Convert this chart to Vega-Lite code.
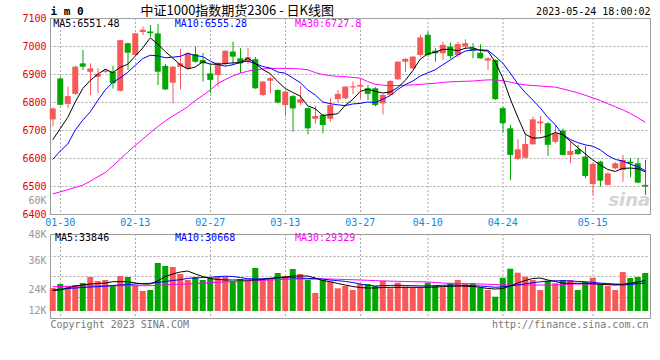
{
"$schema": "https://vega.github.io/schema/vega-lite/v6.json",
"autosize": {"type": "none"},
"padding": {"left": 50, "top": 18, "right": 610, "bottom": 342},
"background": "white",
"bounds": "flush",
"spacing": 20,
"config": {
 "view": {"stroke": "#999999", "strokeWidth": 1},
 "axis": {"labelFont": "DejaVu Sans Mono", "labelFontSize": 10, "titleFont": "DejaVu Sans Mono", "titleFontSize": 10, "titleFontWeight": "normal", "gridColor": "#aaaaaa", "gridDash": [2, 2], "gridWidth": 1, "ticks": false, "domain": false},
 "text": {"font": "DejaVu Sans Mono", "fontSize": 10}
},
"datasets": {
"k": [
{"d":"01-20","o":6738,"h":6780,"l":6714,"c":6777,"v":24414,"m5":6665,"m10":6595,"m30":6472,"vm5":23379,"vm10":23586,"vm30":24952},
{"d":"01-30","o":6884,"h":6890,"l":6788,"c":6790,"v":26069,"m5":6705,"m10":6625,"m30":6479,"vm5":23586,"vm10":23876,"vm30":25034},
{"d":"01-31","o":6793,"h":6855,"l":6778,"c":6821,"v":25241,"m5":6745,"m10":6650,"m30":6487,"vm5":24414,"vm10":24207,"vm30":25117},
{"d":"02-01","o":6829,"h":6930,"l":6826,"c":6926,"v":25655,"m5":6800,"m10":6700,"m30":6495,"vm5":25241,"vm10":24414,"vm30":25159},
{"d":"02-02","o":6938,"h":6986,"l":6914,"c":6926,"v":26483,"m5":6848,"m10":6735,"m30":6503,"vm5":25655,"vm10":24621,"vm30":25241},
{"d":"02-03","o":6908,"h":6938,"l":6825,"c":6920,"v":28965,"m5":6877,"m10":6765,"m30":6517,"vm5":26069,"vm10":24828,"vm30":25283},
{"d":"02-06","o":6890,"h":6920,"l":6832,"c":6900,"v":27310,"m5":6899,"m10":6805,"m30":6533,"vm5":26276,"vm10":24952,"vm30":25324},
{"d":"02-07","o":6908,"h":6916,"l":6904,"c":6912,"v":27724,"m5":6917,"m10":6843,"m30":6548,"vm5":26483,"vm10":25117,"vm30":25324},
{"d":"02-08","o":6908,"h":6929,"l":6848,"c":6867,"v":25241,"m5":6905,"m10":6870,"m30":6571,"vm5":27021,"vm10":25448,"vm30":25365},
{"d":"02-09","o":6840,"h":7022,"l":6838,"c":7021,"v":29379,"m5":6924,"m10":6886,"m30":6596,"vm5":27021,"vm10":25655,"vm30":25365},
{"d":"02-10","o":7010,"h":7012,"l":6914,"c":6976,"v":28965,"m5":6935,"m10":6906,"m30":6621,"vm5":27021,"vm10":25862,"vm30":25365},
{"d":"02-13","o":6968,"h":7047,"l":6966,"c":7045,"v":25531,"m5":6964,"m10":6931,"m30":6645,"vm5":26483,"vm10":26069,"vm30":25365},
{"d":"02-14","o":7050,"h":7069,"l":7039,"c":7058,"v":23172,"m5":6993,"m10":6955,"m30":6668,"vm5":26069,"vm10":26276,"vm30":25365},
{"d":"02-15","o":7052,"h":7075,"l":7033,"c":7046,"v":23586,"m5":7029,"m10":6967,"m30":6690,"vm5":26069,"vm10":26359,"vm30":25365},
{"d":"02-16","o":7045,"h":7079,"l":6861,"c":6908,"v":34759,"m5":7007,"m10":6965,"m30":6712,"vm5":27310,"vm10":26690,"vm30":25531},
{"d":"02-17","o":6929,"h":6935,"l":6843,"c":6845,"v":33517,"m5":6980,"m10":6958,"m30":6732,"vm5":29172,"vm10":27103,"vm30":25738},
{"d":"02-20","o":6869,"h":6928,"l":6795,"c":6926,"v":33103,"m5":6957,"m10":6960,"m30":6750,"vm5":30207,"vm10":27517,"vm30":25862},
{"d":"02-21","o":6926,"h":6990,"l":6845,"c":6938,"v":30207,"m5":6933,"m10":6963,"m30":6766,"vm5":31034,"vm10":27848,"vm30":25986},
{"d":"02-22","o":6920,"h":6978,"l":6917,"c":6974,"v":27724,"m5":6918,"m10":6974,"m30":6783,"vm5":31448,"vm10":28427,"vm30":26069},
{"d":"02-23","o":6971,"h":6998,"l":6940,"c":6944,"v":28965,"m5":6925,"m10":6966,"m30":6805,"vm5":30207,"vm10":28552,"vm30":26276},
{"d":"02-24","o":6950,"h":6975,"l":6873,"c":6938,"v":27724,"m5":6944,"m10":6962,"m30":6823,"vm5":29172,"vm10":28759,"vm30":26483},
{"d":"02-27","o":6902,"h":6932,"l":6831,"c":6879,"v":28552,"m5":6935,"m10":6946,"m30":6843,"vm5":28345,"vm10":28841,"vm30":26607},
{"d":"02-28","o":6896,"h":6942,"l":6855,"c":6940,"v":29090,"m5":6935,"m10":6934,"m30":6866,"vm5":27931,"vm10":29090,"vm30":26772},
{"d":"03-01","o":6936,"h":6985,"l":6930,"c":6983,"v":28965,"m5":6937,"m10":6928,"m30":6880,"vm5":27724,"vm10":29296,"vm30":26897},
{"d":"03-02","o":6980,"h":7015,"l":6932,"c":6962,"v":27310,"m5":6940,"m10":6933,"m30":6893,"vm5":27724,"vm10":29172,"vm30":27021},
{"d":"03-03","o":6956,"h":6992,"l":6903,"c":6938,"v":28138,"m5":6940,"m10":6942,"m30":6903,"vm5":27724,"vm10":28759,"vm30":27103},
{"d":"03-06","o":6943,"h":6993,"l":6936,"c":6960,"v":27724,"m5":6957,"m10":6946,"m30":6910,"vm5":27724,"vm10":28262,"vm30":27310},
{"d":"03-07","o":6953,"h":6961,"l":6847,"c":6849,"v":32690,"m5":6938,"m10":6937,"m30":6915,"vm5":27724,"vm10":28138,"vm30":27517},
{"d":"03-08","o":6825,"h":6875,"l":6822,"c":6873,"v":27724,"m5":6916,"m10":6927,"m30":6918,"vm5":27931,"vm10":28262,"vm30":27641},
{"d":"03-09","o":6876,"h":6890,"l":6831,"c":6885,"v":28138,"m5":6901,"m10":6921,"m30":6920,"vm5":28345,"vm10":28427,"vm30":27724},
{"d":"03-10","o":6843,"h":6845,"l":6795,"c":6798,"v":30621,"m5":6873,"m10":6907,"m30":6920,"vm5":28759,"vm10":28552,"vm30":27848},
{"d":"03-13","o":6789,"h":6840,"l":6748,"c":6837,"v":29379,"m5":6848,"m10":6903,"m30":6920,"vm5":28965,"vm10":28676,"vm30":27972},
{"d":"03-14","o":6821,"h":6825,"l":6694,"c":6777,"v":32276,"m5":6834,"m10":6886,"m30":6919,"vm5":29379,"vm10":28634,"vm30":28096},
{"d":"03-15","o":6798,"h":6857,"l":6789,"c":6810,"v":30207,"m5":6821,"m10":6869,"m30":6918,"vm5":29379,"vm10":28510,"vm30":28138},
{"d":"03-16","o":6778,"h":6780,"l":6685,"c":6706,"v":27724,"m5":6786,"m10":6843,"m30":6915,"vm5":29379,"vm10":28386,"vm30":28138},
{"d":"03-17","o":6740,"h":6785,"l":6722,"c":6750,"v":22345,"m5":6776,"m10":6825,"m30":6905,"vm5":28552,"vm10":28262,"vm30":28138},
{"d":"03-20","o":6754,"h":6757,"l":6688,"c":6718,"v":27724,"m5":6752,"m10":6800,"m30":6898,"vm5":27517,"vm10":28138,"vm30":28138},
{"d":"03-21","o":6740,"h":6813,"l":6730,"c":6789,"v":27021,"m5":6755,"m10":6794,"m30":6894,"vm5":27021,"vm10":27724,"vm30":28138},
{"d":"03-22","o":6810,"h":6843,"l":6798,"c":6829,"v":24290,"m5":6758,"m10":6790,"m30":6892,"vm5":26276,"vm10":27434,"vm30":28014},
{"d":"03-23","o":6813,"h":6857,"l":6810,"c":6855,"v":25241,"m5":6788,"m10":6787,"m30":6890,"vm5":25655,"vm10":27145,"vm30":27931},
{"d":"03-24","o":6852,"h":6873,"l":6829,"c":6856,"v":23586,"m5":6809,"m10":6793,"m30":6888,"vm5":25034,"vm10":26690,"vm30":27848},
{"d":"03-27","o":6855,"h":6885,"l":6813,"c":6861,"v":26069,"m5":6838,"m10":6795,"m30":6885,"vm5":24621,"vm10":26069,"vm30":27724},
{"d":"03-28","o":6849,"h":6861,"l":6807,"c":6829,"v":26069,"m5":6846,"m10":6800,"m30":6873,"vm5":24414,"vm10":25572,"vm30":27600},
{"d":"03-29","o":6849,"h":6853,"l":6785,"c":6789,"v":25241,"m5":6838,"m10":6798,"m30":6863,"vm5":24414,"vm10":25241,"vm30":27476},
{"d":"03-30","o":6795,"h":6828,"l":6756,"c":6825,"v":27434,"m5":6832,"m10":6810,"m30":6860,"vm5":24621,"vm10":25407,"vm30":27310},
{"d":"03-31","o":6825,"h":6878,"l":6823,"c":6875,"v":24290,"m5":6836,"m10":6823,"m30":6858,"vm5":24703,"vm10":25490,"vm30":27269},
{"d":"04-03","o":6881,"h":6946,"l":6879,"c":6944,"v":26607,"m5":6852,"m10":6845,"m30":6859,"vm5":24703,"vm10":25531,"vm30":27186},
{"d":"04-04","o":6944,"h":6957,"l":6908,"c":6954,"v":24952,"m5":6877,"m10":6862,"m30":6860,"vm5":24703,"vm10":25448,"vm30":27103},
{"d":"04-06","o":6920,"h":6964,"l":6918,"c":6962,"v":24703,"m5":6912,"m10":6875,"m30":6861,"vm5":24703,"vm10":25365,"vm30":27021},
{"d":"04-07","o":6968,"h":7040,"l":6962,"c":7031,"v":24703,"m5":6953,"m10":6893,"m30":6863,"vm5":24703,"vm10":25283,"vm30":27021},
{"d":"04-10","o":7040,"h":7051,"l":6962,"c":6968,"v":26607,"m5":6972,"m10":6904,"m30":6865,"vm5":24745,"vm10":25241,"vm30":26897},
{"d":"04-11","o":6983,"h":6992,"l":6944,"c":6974,"v":25241,"m5":6978,"m10":6915,"m30":6867,"vm5":24828,"vm10":25407,"vm30":26690},
{"d":"04-12","o":6974,"h":7015,"l":6950,"c":7004,"v":24703,"m5":6988,"m10":6933,"m30":6870,"vm5":24993,"vm10":25531,"vm30":26483},
{"d":"04-13","o":6998,"h":7012,"l":6955,"c":6964,"v":26359,"m5":6988,"m10":6950,"m30":6872,"vm5":25117,"vm10":25655,"vm30":26359},
{"d":"04-14","o":6968,"h":7015,"l":6960,"c":7007,"v":27724,"m5":6983,"m10":6968,"m30":6873,"vm5":25241,"vm10":25572,"vm30":26276},
{"d":"04-17","o":6998,"h":7024,"l":6990,"c":7010,"v":26359,"m5":6992,"m10":6982,"m30":6874,"vm5":25159,"vm10":25448,"vm30":26193},
{"d":"04-18","o":6992,"h":7010,"l":6956,"c":6983,"v":26359,"m5":6994,"m10":6986,"m30":6875,"vm5":25034,"vm10":25324,"vm30":26152},
{"d":"04-19","o":6976,"h":7006,"l":6955,"c":6956,"v":24538,"m5":6984,"m10":6986,"m30":6877,"vm5":24703,"vm10":25241,"vm30":26069},
{"d":"04-20","o":6948,"h":6960,"l":6914,"c":6956,"v":23586,"m5":6982,"m10":6985,"m30":6879,"vm5":24207,"vm10":24993,"vm30":25945},
{"d":"04-21","o":6950,"h":6952,"l":6808,"c":6810,"v":20813,"m5":6943,"m10":6963,"m30":6879,"vm5":24000,"vm10":24703,"vm30":25821},
{"d":"04-24","o":6778,"h":6783,"l":6690,"c":6724,"v":28676,"m5":6886,"m10":6939,"m30":6876,"vm5":24207,"vm10":24910,"vm30":25738},
{"d":"04-25","o":6706,"h":6718,"l":6521,"c":6611,"v":32400,"m5":6811,"m10":6903,"m30":6871,"vm5":25241,"vm10":25241,"vm30":25655},
{"d":"04-26","o":6597,"h":6667,"l":6593,"c":6631,"v":30745,"m5":6746,"m10":6865,"m30":6865,"vm5":26483,"vm10":25738,"vm30":25655},
{"d":"04-27","o":6601,"h":6688,"l":6599,"c":6650,"v":29090,"m5":6685,"m10":6834,"m30":6861,"vm5":27517,"vm10":26152,"vm30":25655},
{"d":"04-28","o":6649,"h":6748,"l":6647,"c":6738,"v":27724,"m5":6671,"m10":6807,"m30":6859,"vm5":28345,"vm10":26607,"vm30":25655},
{"d":"05-04","o":6724,"h":6750,"l":6688,"c":6730,"v":23586,"m5":6672,"m10":6779,"m30":6857,"vm5":28552,"vm10":26979,"vm30":25655},
{"d":"05-05","o":6724,"h":6728,"l":6608,"c":6647,"v":27434,"m5":6679,"m10":6745,"m30":6855,"vm5":27724,"vm10":27227,"vm30":25655},
{"d":"05-08","o":6658,"h":6718,"l":6652,"c":6688,"v":26359,"m5":6691,"m10":6719,"m30":6853,"vm5":27103,"vm10":27393,"vm30":25738},
{"d":"05-09","o":6698,"h":6705,"l":6609,"c":6611,"v":27724,"m5":6683,"m10":6684,"m30":6847,"vm5":26400,"vm10":27434,"vm30":25862},
{"d":"05-10","o":6611,"h":6658,"l":6581,"c":6625,"v":27724,"m5":6660,"m10":6666,"m30":6840,"vm5":26359,"vm10":27310,"vm30":25986},
{"d":"05-11","o":6631,"h":6647,"l":6611,"c":6614,"v":23586,"m5":6637,"m10":6655,"m30":6833,"vm5":26359,"vm10":27145,"vm30":26069},
{"d":"05-12","o":6605,"h":6643,"l":6528,"c":6536,"v":26897,"m5":6615,"m10":6647,"m30":6824,"vm5":26359,"vm10":27021,"vm30":26069},
{"d":"05-15","o":6507,"h":6582,"l":6468,"c":6579,"v":28676,"m5":6593,"m10":6642,"m30":6815,"vm5":26152,"vm10":26731,"vm30":26069},
{"d":"05-16","o":6587,"h":6590,"l":6498,"c":6519,"v":26069,"m5":6575,"m10":6629,"m30":6805,"vm5":25986,"vm10":26441,"vm30":26069},
{"d":"05-17","o":6504,"h":6548,"l":6502,"c":6545,"v":25241,"m5":6559,"m10":6609,"m30":6794,"vm5":25779,"vm10":26276,"vm30":26069},
{"d":"05-18","o":6563,"h":6585,"l":6560,"c":6581,"v":23586,"m5":6552,"m10":6595,"m30":6783,"vm5":25655,"vm10":25945,"vm30":26069},
{"d":"05-19","o":6557,"h":6611,"l":6515,"c":6593,"v":31034,"m5":6563,"m10":6589,"m30":6772,"vm5":25862,"vm10":25655,"vm30":26152},
{"d":"05-22","o":6587,"h":6599,"l":6531,"c":6581,"v":28552,"m5":6564,"m10":6578,"m30":6759,"vm5":26359,"vm10":25862,"vm30":26193},
{"d":"05-23","o":6581,"h":6599,"l":6510,"c":6512,"v":28965,"m5":6562,"m10":6569,"m30":6744,"vm5":26897,"vm10":26193,"vm30":26276},
{"d":"05-24","o":6504,"h":6593,"l":6468,"c":6498,"v":30621,"m5":6551,"m10":6555,"m30":6728,"vm5":27517,"vm10":26483,"vm30":26317}
]},
"vconcat": [
{
 "width": 600,
 "height": 196,
 "data": {"name": "k"},
 "resolve": {"axis": {"x": "independent", "y": "independent"}},
 "layer": [
  {"data": {"values": [{"gd":"01-30"},{"gd":"02-13"},{"gd":"02-27"},{"gd":"03-13"},{"gd":"03-27"},{"gd":"04-10"},{"gd":"04-24"},{"gd":"05-15"}]},
   "mark": {"type": "rule", "color": "#aaaaaa", "strokeWidth": 1, "strokeDash": [2, 2], "xOffset": 0.25, "opacity": 1},
   "encoding": {"x": {"field": "gd", "type": "ordinal", "sort": null, "axis": null}, "y": {"datum": 7100, "type": "quantitative", "axis": null}, "y2": {"datum": 6400}}},
  {"data": {"values": [{"t": "sina"}]},
   "mark": {"type": "text", "align": "right", "baseline": "alphabetic", "dx": 5, "dy": -8, "font": "DejaVu Sans", "fontSize": 18, "fontStyle": "italic", "fontWeight": "bold", "color": "#d4d4d4"},
   "encoding": {"x": {"datum": "05-24", "type": "ordinal", "axis": null}, "y": {"datum": 6400, "type": "quantitative", "axis": null}, "text": {"field": "t"}}},
  {"mark": {"type": "rule", "strokeWidth": 1, "xOffset": 0.25},
   "encoding": {
    "x": {"field": "d", "type": "ordinal", "sort": null,
     "scale": {"type": "band", "range": [-1, 599], "paddingInner": 0, "paddingOuter": 0,
      "domain": ["01-20","01-30","01-31","02-01","02-02","02-03","02-06","02-07","02-08","02-09","02-10","02-13","02-14","02-15","02-16","02-17","02-20","02-21","02-22","02-23","02-24","02-27","02-28","03-01","03-02","03-03","03-06","03-07","03-08","03-09","03-10","03-13","03-14","03-15","03-16","03-17","03-20","03-21","03-22","03-23","03-24","03-27","03-28","03-29","03-30","03-31","04-03","04-04","04-06","04-07","04-10","04-11","04-12","04-13","04-14","04-17","04-18","04-19","04-20","04-21","04-24","04-25","04-26","04-27","04-28","05-04","05-05","05-08","05-09","05-10","05-11","05-12","05-15","05-16","05-17","05-18","05-19","05-22","05-23","05-24"]},
     "axis": {"orient": "bottom", "values": ["01-30","02-13","02-27","03-13","03-27","04-10","04-24","05-15"], "bandPosition": 0.5, "grid": false, "labelAngle": 0, "labelColor": "#1188dd", "labelPadding": 3,
      "title": "中证1000指数期货2306 - 日K线图", "titleFont": "Noto Sans CJK SC", "titleFontSize": 13, "titleFontWeight": "normal", "titleColor": "#000000", "titleX": 90, "titleY": -204, "titleAlign": "left", "titleBaseline": "middle", "titleAngle": 0}},
    "y": {"field": "l", "type": "quantitative", "scale": {"domain": [6400, 7100], "nice": false, "zero": false},
     "axis": {"orient": "left", "values": [6400, 6450, 6500, 6600, 6700, 6800, 6900, 7000, 7100], "format": "d",
      "labelExpr": "datum.value == 6450 ? '60K' : datum.label",
      "labelColor": {"condition": {"test": "datum.value == 6450", "value": "#999999"}, "value": "#dd0000"},
      "grid": true,
      "gridOpacity": {"condition": {"test": "datum.value == 6450", "value": 0}, "value": 1},
      "labelPadding": 4, "labelFlush": false, "labelOverlap": false,
      "title": "i m 0", "titleFont": "DejaVu Sans Mono", "titleFontSize": 11, "titleFontWeight": "bold", "titleColor": "#000000", "titleAngle": 0, "titleX": 0, "titleY": -7, "titleAlign": "left", "titleBaseline": "middle"}},
    "y2": {"field": "h"},
    "color": {"condition": {"test": "datum.c >= datum.o", "value": "#f85858"}, "value": "#02a602"}}},
  {"mark": {"type": "bar", "size": 6},
   "encoding": {
    "x": {"field": "d", "type": "ordinal", "sort": null, "axis": null},
    "y": {"field": "o", "type": "quantitative", "axis": null},
    "y2": {"field": "c"},
    "color": {"condition": {"test": "datum.c >= datum.o", "value": "#f85858"}, "value": "#02a602"}}},
  {"mark": {"type": "line", "color": "#ff00ff", "strokeWidth": 1},
   "encoding": {"x": {"field": "d", "type": "ordinal", "sort": null, "axis": null}, "y": {"field": "m30", "type": "quantitative", "axis": null}}},
  {"mark": {"type": "line", "color": "#0000ff", "strokeWidth": 1},
   "encoding": {"x": {"field": "d", "type": "ordinal", "sort": null, "axis": null}, "y": {"field": "m10", "type": "quantitative", "axis": null}}},
  {"mark": {"type": "line", "color": "#000000", "strokeWidth": 1},
   "encoding": {"x": {"field": "d", "type": "ordinal", "sort": null, "axis": null}, "y": {"field": "m5", "type": "quantitative",
    "axis": {"orient": "right", "labels": false, "grid": false, "title": "2023-05-24 18:00:02", "titleFont": "DejaVu Sans Mono", "titleFontSize": 10, "titleFontWeight": "normal", "titleColor": "#000000", "titleAngle": 0, "titleX": 0, "titleY": -7, "titleAlign": "right", "titleBaseline": "middle"}}}},
  {"data": {"values": [{"t": "MA5:6551.48"}]},
   "mark": {"type": "text", "align": "left", "baseline": "middle", "dx": 0.5, "color": "#000000"},
   "encoding": {"x": {"datum": "01-20", "type": "ordinal", "axis": null}, "y": {"datum": 7080, "type": "quantitative", "axis": null}, "text": {"field": "t"}}},
  {"data": {"values": [{"t": "MA10:6555.28"}]},
   "mark": {"type": "text", "align": "left", "baseline": "middle", "dx": 2, "color": "#0000ff"},
   "encoding": {"x": {"datum": "02-20", "type": "ordinal", "axis": null}, "y": {"datum": 7080, "type": "quantitative", "axis": null}, "text": {"field": "t"}}},
  {"data": {"values": [{"t": "MA30:6727.8"}]},
   "mark": {"type": "text", "align": "left", "baseline": "middle", "dx": 2.25, "color": "#ff00ff"},
   "encoding": {"x": {"datum": "03-14", "type": "ordinal", "axis": null}, "y": {"datum": 7080, "type": "quantitative", "axis": null}, "text": {"field": "t"}}}
 ]
},
{
 "width": 600,
 "height": 84,
 "data": {"name": "k"},
 "resolve": {"axis": {"x": "independent", "y": "independent"}},
 "layer": [
  {"data": {"values": [{"gd":"01-30"},{"gd":"02-13"},{"gd":"02-27"},{"gd":"03-13"},{"gd":"03-27"},{"gd":"04-10"},{"gd":"04-24"},{"gd":"05-15"}]},
   "mark": {"type": "rule", "color": "#aaaaaa", "strokeWidth": 1, "strokeDash": [2, 2], "xOffset": 0.25, "opacity": 1},
   "encoding": {"x": {"field": "gd", "type": "ordinal", "sort": null, "axis": null}, "y": {"datum": 46760, "type": "quantitative", "axis": null}, "y2": {"datum": 12000}}},
  {"mark": {"type": "bar", "size": 6},
   "encoding": {
    "x": {"field": "d", "type": "ordinal", "sort": null,
     "scale": {"type": "band", "range": [-1, 599], "paddingInner": 0, "paddingOuter": 0,
      "domain": ["01-20","01-30","01-31","02-01","02-02","02-03","02-06","02-07","02-08","02-09","02-10","02-13","02-14","02-15","02-16","02-17","02-20","02-21","02-22","02-23","02-24","02-27","02-28","03-01","03-02","03-03","03-06","03-07","03-08","03-09","03-10","03-13","03-14","03-15","03-16","03-17","03-20","03-21","03-22","03-23","03-24","03-27","03-28","03-29","03-30","03-31","04-03","04-04","04-06","04-07","04-10","04-11","04-12","04-13","04-14","04-17","04-18","04-19","04-20","04-21","04-24","04-25","04-26","04-27","04-28","05-04","05-05","05-08","05-09","05-10","05-11","05-12","05-15","05-16","05-17","05-18","05-19","05-22","05-23","05-24"]},
     "axis": {"orient": "bottom", "values": ["01-30","02-13","02-27","03-13","03-27","04-10","04-24","05-15"], "bandPosition": 0.5, "grid": false, "labels": false,
      "title": "http://finance.sina.com.cn", "titleFont": "DejaVu Sans Mono", "titleFontSize": 10, "titleFontWeight": "normal", "titleColor": "#777777", "titleX": 598, "titleY": 6, "titleAlign": "right", "titleBaseline": "middle", "titleAngle": 0}},
    "y": {"field": "v", "type": "quantitative", "scale": {"domain": [12000, 46760], "nice": false, "zero": false},
     "axis": {"orient": "left", "values": [14900, 20690, 24000, 29380, 36000, 37656, 46760],
      "labelExpr": "datum.value == 14900 ? '12K' : datum.value == 24000 ? '24K' : datum.value == 36000 ? '36K' : datum.value == 46760 ? '48K' : ''",
      "labelColor": "#999999", "grid": true,
      "gridOpacity": {"condition": {"test": "datum.value == 20690 || datum.value == 29380 || datum.value == 37656", "value": 1}, "value": 0},
      "labelPadding": 4, "labelFlush": false, "labelOverlap": false,
      "title": "Copyright 2023 SINA.COM", "titleFont": "DejaVu Sans Mono", "titleFontSize": 10, "titleFontWeight": "normal", "titleColor": "#777777", "titleAngle": 0, "titleX": 0, "titleY": 90, "titleAlign": "left", "titleBaseline": "middle"}},
    "y2": {"datum": 14900},
    "color": {"condition": {"test": "datum.c >= datum.o", "value": "#f85858"}, "value": "#02a602"}}},
  {"mark": {"type": "line", "color": "#ff00ff", "strokeWidth": 1},
   "encoding": {"x": {"field": "d", "type": "ordinal", "sort": null, "axis": null}, "y": {"field": "vm30", "type": "quantitative", "axis": null}}},
  {"mark": {"type": "line", "color": "#0000ff", "strokeWidth": 1},
   "encoding": {"x": {"field": "d", "type": "ordinal", "sort": null, "axis": null}, "y": {"field": "vm10", "type": "quantitative", "axis": null}}},
  {"mark": {"type": "line", "color": "#000000", "strokeWidth": 1},
   "encoding": {"x": {"field": "d", "type": "ordinal", "sort": null, "axis": null}, "y": {"field": "vm5", "type": "quantitative", "axis": null}}},
  {"data": {"values": [{"t": "MA5:33846"}]},
   "mark": {"type": "text", "align": "left", "baseline": "middle", "dx": 2.25, "color": "#000000"},
   "encoding": {"x": {"datum": "01-20", "type": "ordinal", "axis": null}, "y": {"datum": 44980, "type": "quantitative", "axis": null}, "text": {"field": "t"}}},
  {"data": {"values": [{"t": "MA10:30668"}]},
   "mark": {"type": "text", "align": "left", "baseline": "middle", "dx": 2.25, "color": "#0000ff"},
   "encoding": {"x": {"datum": "02-20", "type": "ordinal", "axis": null}, "y": {"datum": 44980, "type": "quantitative", "axis": null}, "text": {"field": "t"}}},
  {"data": {"values": [{"t": "MA30:29329"}]},
   "mark": {"type": "text", "align": "left", "baseline": "middle", "dx": 2.25, "color": "#ff00ff"},
   "encoding": {"x": {"datum": "03-14", "type": "ordinal", "axis": null}, "y": {"datum": 44980, "type": "quantitative", "axis": null}, "text": {"field": "t"}}}
 ]
}
]
}
